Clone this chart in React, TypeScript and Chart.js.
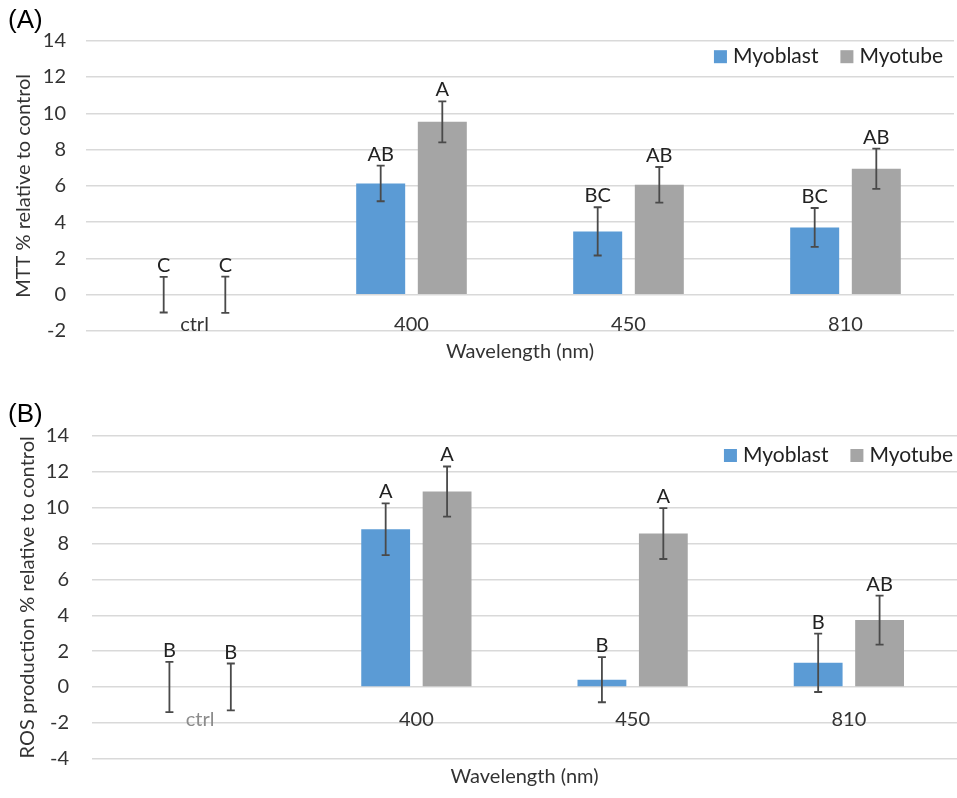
import React, { useEffect, useRef } from 'react';
import { Chart, registerables } from 'chart.js';

Chart.register(...registerables);

// ---------- data ----------
const categories = ['ctrl', '400', '450', '810'];
const seriesNames = ['Myoblast', 'Myotube'];
const xTitle = 'Wavelength (nm)';

// Panel A: MTT
const mttMyoblast = [0, 6.13, 3.49, 3.71];
const mttMyoblastErr = [0.98, 0.98, 1.33, 1.07];
const mttMyotube = [0, 9.53, 6.06, 6.94];
const mttMyotubeErr = [1.0, 1.13, 0.98, 1.11];
const mttMyoblastLetters = ['C', 'AB', 'BC', 'BC'];
const mttMyotubeLetters = ['C', 'A', 'AB', 'AB'];
const mttYMin = -2;
const mttYMax = 14;

// Panel B: ROS
const rosMyoblast = [0, 8.8, 0.41, 1.35];
const rosMyoblastErr = [1.4, 1.44, 1.26, 1.63];
const rosMyotube = [0, 10.9, 8.56, 3.73];
const rosMyotubeErr = [1.31, 1.4, 1.42, 1.37];
const rosMyoblastLetters = ['B', 'A', 'B', 'B'];
const rosMyotubeLetters = ['B', 'A', 'A', 'AB'];
const rosYMin = -4;
const rosYMax = 14;

const yStep = 2;

// ---------- styles ----------
const FONT = 'Lato, "Open Sans", "DejaVu Sans", sans-serif';
const BLUE = '#5B9BD5';
const GREY = '#A5A5A5';
const TEXT = '#333333';
const DARK = '#222222';
const GRID = '#d9d9d9';

type Spec = {
  panel: string;
  yTitle: string;
  myoblast: number[];
  myotube: number[];
  errors: number[][];
  letters: string[][];
  yMin: number;
  yMax: number;
  height: number;
  padRight: number;
  yWidth: number;
  yTickPad: number;
  yTitlePad: number;
  titlePadTop: number;
  titlePadBottom: number;
  xHeight: number;
  xLabelPad: number;
  xTitlePadBottom: number;
  xLabelColors: string[];
  legendRight: number;
  legendDy: number;
};

function buildConfig(p: Spec): any {
  const errLetters = {
    id: 'errLetters',
    afterDatasetsDraw(chart: any) {
      const ctx = chart.ctx;
      const y = chart.scales.y;
      ctx.save();
      chart.data.datasets.forEach((ds: any, di: number) => {
        const meta = chart.getDatasetMeta(di);
        meta.data.forEach((bar: any, i: number) => {
          const v = ds.data[i];
          const e = p.errors[di][i];
          const yt = y.getPixelForValue(v + e);
          const yb = y.getPixelForValue(v - e);
          const x = bar.x;
          ctx.strokeStyle = '#4a4a4a';
          ctx.lineWidth = 1.8;
          ctx.beginPath();
          ctx.moveTo(x, yt);
          ctx.lineTo(x, yb);
          ctx.moveTo(x - 4, yt);
          ctx.lineTo(x + 4, yt);
          ctx.moveTo(x - 4, yb);
          ctx.lineTo(x + 4, yb);
          ctx.stroke();
          ctx.fillStyle = DARK;
          ctx.font = `20px ${FONT}`;
          ctx.textAlign = 'center';
          ctx.textBaseline = 'alphabetic';
          ctx.fillText(p.letters[di][i], x, yt - 5);
        });
      });
      ctx.restore();
    },
  };

  const legendBox = {
    id: 'legendBox',
    afterDraw(chart: any) {
      const ctx = chart.ctx;
      const ca = chart.chartArea;
      ctx.save();
      ctx.font = `21px ${FONT}`;
      ctx.textAlign = 'left';
      ctx.textBaseline = 'middle';
      const yc = ca.top + p.legendDy;
      let xr = ca.right - p.legendRight;
      const ds = chart.data.datasets;
      for (let i = ds.length - 1; i >= 0; i--) {
        const w = ctx.measureText(ds[i].label).width;
        const tx = xr - w;
        ctx.fillStyle = DARK;
        ctx.fillText(ds[i].label, tx, yc);
        ctx.fillStyle = ds[i].backgroundColor;
        ctx.fillRect(tx - 6 - 13, yc - 6.5, 13, 13);
        xr = tx - 6 - 13 - 22;
      }
      ctx.restore();
    },
  };

  return {
    type: 'bar',
    data: {
      labels: categories,
      datasets: [
        { label: seriesNames[0], data: p.myoblast, backgroundColor: BLUE, borderWidth: 0 },
        { label: seriesNames[1], data: p.myotube, backgroundColor: GREY, borderWidth: 0 },
      ],
    },
    options: {
      responsive: false,
      animation: false,
      events: [],
      categoryPercentage: 0.568,
      barPercentage: 0.795,
      layout: { padding: { left: 8, right: p.padRight, top: 0, bottom: 0 } },
      plugins: {
        title: {
          display: true,
          text: p.panel,
          align: 'start',
          color: '#000',
          font: { family: '"Liberation Sans", Arial, sans-serif', size: 26, weight: 'normal' },
          padding: { top: p.titlePadTop, bottom: p.titlePadBottom },
        },
        legend: { display: false },
        tooltip: { enabled: false },
      },
      scales: {
        x: {
          offset: true,
          grid: { display: false, drawTicks: false },
          border: { display: false },
          ticks: {
            mirror: true,
            padding: p.xLabelPad,
            color: (c: any) => p.xLabelColors[c.index] || TEXT,
            font: { family: FONT, size: 20 },
            autoSkip: false,
            maxRotation: 0,
          },
          title: {
            display: true,
            text: xTitle,
            color: TEXT,
            font: { family: FONT, size: 20 },
            padding: { top: 0, bottom: p.xTitlePadBottom },
          },
          afterFit: (s: any) => {
            s.height = p.xHeight;
          },
        },
        y: {
          min: p.yMin,
          max: p.yMax,
          ticks: {
            stepSize: yStep,
            padding: p.yTickPad,
            color: TEXT,
            font: { family: FONT, size: 20 },
          },
          grid: { color: GRID, lineWidth: 1.5, drawTicks: false },
          border: { display: false },
          title: {
            display: true,
            text: p.yTitle,
            color: TEXT,
            font: { family: FONT, size: 20 },
            padding: { top: p.yTitlePad, bottom: 0 },
          },
          afterFit: (s: any) => {
            s.width = p.yWidth;
          },
        },
      },
    },
    plugins: [errLetters, legendBox],
  };
}

const specA: Spec = {
  panel: '(A)',
  yTitle: 'MTT % relative to control',
  myoblast: mttMyoblast,
  myotube: mttMyotube,
  errors: [mttMyoblastErr, mttMyotubeErr],
  letters: [mttMyoblastLetters, mttMyotubeLetters],
  yMin: mttYMin,
  yMax: mttYMax,
  height: 390,
  padRight: 3,
  yWidth: 78,
  yTickPad: 20,
  yTitlePad: 4,
  titlePadTop: 5.4,
  titlePadBottom: 4.1,
  xHeight: 59,
  xLabelPad: -6,
  xTitlePadBottom: 26,
  xLabelColors: [TEXT, TEXT, TEXT, TEXT],
  legendRight: 11,
  legendDy: 16,
};

const specB: Spec = {
  panel: '(B)',
  yTitle: 'ROS production % relative to control',
  myoblast: rosMyoblast,
  myotube: rosMyotube,
  errors: [rosMyoblastErr, rosMyotubeErr],
  letters: [rosMyoblastLetters, rosMyotubeLetters],
  yMin: rosYMin,
  yMax: rosYMax,
  height: 408,
  padRight: 0,
  yWidth: 84,
  yTickPad: 23,
  yTitlePad: 8,
  titlePadTop: 9.4,
  titlePadBottom: 5.4,
  xHeight: 39.3,
  xLabelPad: 27.4,
  xTitlePadBottom: 9.3,
  xLabelColors: ['#8c8c8c', TEXT, TEXT, TEXT],
  legendRight: 4,
  legendDy: 19.5,
};

function Panel({ spec, top }: { spec: Spec; top: number }) {
  const ref = useRef<HTMLCanvasElement>(null);
  useEffect(() => {
    const chart = new Chart(ref.current as HTMLCanvasElement, buildConfig(spec));
    return () => chart.destroy();
  }, [spec]);
  return (
    <canvas
      ref={ref}
      width={957}
      height={spec.height}
      style={{ position: 'absolute', left: 0, top, width: 957, height: spec.height, display: 'block' }}
    />
  );
}

export default function App() {
  return (
    <div style={{ position: 'absolute', left: 0, top: 0, width: 957, height: 798, background: '#fff', overflow: 'hidden' }}>
      <Panel spec={specA} top={0} />
      <Panel spec={specB} top={390} />
    </div>
  );
}
